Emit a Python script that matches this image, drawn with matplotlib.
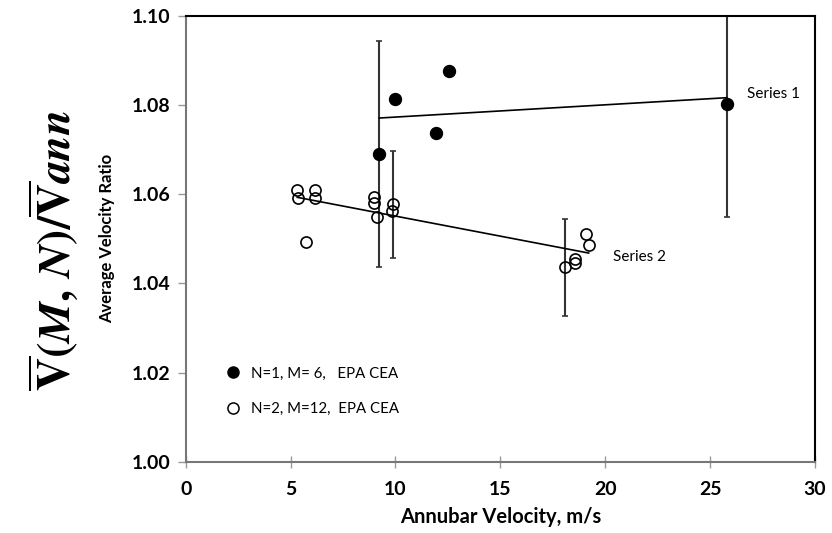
import matplotlib
matplotlib.use('Agg')
import matplotlib.pyplot as plt
from matplotlib.lines import Line2D
import numpy as np

plt.rcParams['font.family'] = ['Lato', 'DejaVu Sans']
plt.rcParams['mathtext.fontset'] = 'custom'
plt.rcParams['mathtext.rm'] = 'STIXGeneral:bold'
plt.rcParams['mathtext.bf'] = 'STIXGeneral:bold'
plt.rcParams['mathtext.it'] = 'STIXGeneral:italic:bold'

# series 1: N=1, M=6 (filled)
x1 = [9.23, 9.97, 11.95, 12.55, 25.79]
y1 = [1.0690, 1.0813, 1.0737, 1.0876, 1.0802]
# error bars only on some points
x1_err = [9.23, 25.79]
y1_err = [1.0690, 1.0802]
e1_err = [0.0253, 0.0253]

# series 2: N=2, M=12 (hollow)
x2 = [5.32, 5.37, 6.16, 6.16, 5.73, 8.97, 8.99, 9.13, 9.90, 9.82,
      19.08, 19.21, 18.54, 18.57, 18.08]
y2 = [1.0609, 1.0592, 1.0609, 1.0592, 1.0492, 1.0594, 1.0580, 1.0548, 1.0578, 1.0563,
      1.0512, 1.0487, 1.0455, 1.0445, 1.0438]
x2_err = [9.90, 18.08]
y2_err = [1.0578, 1.0436]
e2_err = [0.012, 0.0108]

legend_labels = ['N=1, M= 6,   EPA CEA', 'N=2, M=12,  EPA CEA']

fig = plt.figure(figsize=(8.32, 5.33), dpi=100)
ax = fig.add_axes([0.2232, 0.1332, 0.7564, 0.8373])

# error bars
ax.errorbar(x1_err, y1_err, yerr=e1_err, fmt='none', ecolor='#333333',
            elinewidth=1.5, capsize=2.5, capthick=1.2, zorder=2)
ax.errorbar(x2_err, y2_err, yerr=e2_err, fmt='none', ecolor='#333333',
            elinewidth=1.5, capsize=2.5, capthick=1.2, zorder=2)

# linear trendlines
p1 = np.polyfit(x1, y1, 1)
xs1 = np.array([min(x1), max(x1)])
ax.plot(xs1, np.polyval(p1, xs1), color='black', lw=1.2, zorder=3)
p2 = np.polyfit(x2, y2, 1)
xs2 = np.array([min(x2), max(x2)])
ax.plot(xs2, np.polyval(p2, xs2), color='black', lw=1.2, zorder=3)

ax.plot(x1, y1, 'o', color='black', markersize=8.6, zorder=4)
ax.plot(x2, y2, 'o', mfc='none', mec='black', mew=1.2, markersize=8, zorder=4)

ax.text(xs1[1] + 0.95, np.polyval(p1, xs1[1]) + 0.0008, 'Series 1', fontsize=11,
        va='center', ha='left')
ax.text(xs2[1] + 1.16, np.polyval(p2, xs2[1]) - 0.0008, 'Series 2', fontsize=11,
        va='center', ha='left')

handles = [Line2D([], [], ls='none', marker='o', color='black', markersize=8),
           Line2D([], [], ls='none', marker='o', mfc='none', mec='black', mew=1.1, markersize=8)]
ax.legend(handles, legend_labels, loc='center left', bbox_to_anchor=(0.052, 0.158),
          frameon=False, fontsize=10.8, borderpad=0, handlelength=1.0,
          handletextpad=0.7, labelspacing=1.45)

ax.set_xlim(0, 30)
ax.set_ylim(1.00, 1.10)
ax.set_xticks(np.arange(0, 31, 5))
ax.set_yticks(np.arange(1.00, 1.101, 0.02))
ax.set_yticklabels(['%.2f' % v for v in np.arange(1.00, 1.101, 0.02)])
for lab in ax.get_xticklabels() + ax.get_yticklabels():
    lab.set_fontweight('bold')
    lab.set_fontsize(14)
ax.tick_params(axis='x', direction='inout', length=8, color='#999999', width=1, pad=10)
ax.tick_params(axis='y', direction='out', length=6, color='#999999', width=1, pad=5)

ax.spines['left'].set_color('#777777')
ax.spines['bottom'].set_color('#777777')
ax.spines['top'].set_color('black')
ax.spines['right'].set_color('black')
for s in ax.spines.values():
    s.set_linewidth(1.5)

ax.set_xlabel('Annubar Velocity, m/s', fontsize=14.5, fontweight='bold', labelpad=6)
ax.set_ylabel('Average Velocity Ratio', fontsize=12, fontweight='bold', labelpad=12)

fig.text(0.064, 0.53, r'$\overline{\mathbf{V}}(M,\,N)/\overline{\mathbf{V}}ann$',
         fontsize=33, rotation=90, ha='center', va='center')

fig.savefig('out.png', dpi=100)
